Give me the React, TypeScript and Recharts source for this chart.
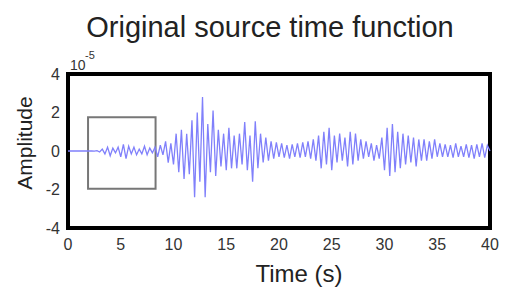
import React from 'react';
import { LineChart, Line, XAxis, YAxis, ReferenceArea } from 'recharts';

// sample interval of the trace (s)
const STEP = 0.25;

// amplitude (x 1e-5), one row per 2 s
const AMP = [
  0, 0, 0, 0, 0, 0, 0, 0,
  0, 0.01, -0.01, 0.02, -0.05, 0.1, -0.15, 0.2,
  -0.25, 0.15, -0.1, 0.2, -0.3, 0.35, -0.4, 0.25,
  -0.15, 0.2, -0.2, 0.1, -0.15, 0.25, -0.2, 0.15,
  -0.1, 0.2, -0.3, 0.3, -0.2, 0.5, -0.6, 0.4,
  -0.7, 0.9, -1.1, 1.1, -1.45, 0.9, -1.2, 1.6,
  -2.4, 2.0, -1.6, 2.8, -2.4, 1.4, -1.1, 2.1,
  -1.3, 1.1, -0.8, 0.9, -1.0, 1.2, -0.9, 0.8,
  -0.9, 0.9, -0.7, 1.5, -1.0, 0.8, -1.6, 1.55,
  -0.9, 0.9, -0.6, 0.7, -0.5, 0.5, -0.4, 0.45,
  -0.3, 0.4, -0.35, 0.3, -0.4, 0.35, -0.3, 0.4,
  -0.35, 0.45, -0.3, 0.5, -0.4, 0.6, -0.5, 0.8,
  -0.9, 1.0, -0.7, 1.2, -1.0, 0.8, -0.6, 0.9,
  -0.5, 0.7, -0.8, 1.0, -0.7, 0.9, -0.5, 0.6,
  -0.4, 0.5, -0.3, 0.4, -0.5, 0.3, -0.4, 0.7,
  -1.0, 1.2, -1.3, 1.4, -1.1, 1.0, -0.9, 0.9,
  -0.7, 0.8, -0.6, 0.7, -0.8, 0.6, -0.5, 0.6,
  -0.5, 0.5, -0.4, 0.6, -0.3, 0.4, -0.3, 0.35,
  -0.3, 0.3, -0.35, 0.4, -0.3, 0.25, -0.3, 0.35,
  -0.35, 0.3, -0.4, 0.35, -0.3, 0.4, -0.35, 0.3,
  0,
];

const X_TICKS = [0, 5, 10, 15, 20, 25, 30, 35, 40];
const Y_TICKS = [-4, -2, 0, 2, 4];

// zoom box drawn on the early part of the trace
const BOX_T = [1.9, 8.3];
const BOX_A = [-1.96, 1.75];

const data = AMP.map((a, i) => ({ t: i * STEP, amp: a }));

const FONT = '"Liberation Sans", Arial, sans-serif';

export default function App() {
  return (
    <div style={{ position: 'absolute', left: 0, top: 0, width: 508, height: 290, background: '#fff', fontFamily: FONT }}>
      <LineChart width={508} height={290} data={data} margin={{ top: 74, right: 18, bottom: 32, left: 28 }}>
        <XAxis
          dataKey="t"
          type="number"
          domain={[0, 40]}
          ticks={X_TICKS}
          height={30}
          axisLine={false}
          tickLine={false}
          tickSize={0}
          tickMargin={11}
          tick={{ fill: '#333', fontSize: 16, fontFamily: FONT }}
        />
        <YAxis
          type="number"
          domain={[-4, 4]}
          ticks={Y_TICKS}
          width={40}
          axisLine={false}
          tickLine={false}
          tickSize={0}
          tickMargin={8}
          tick={{ fill: '#333', fontSize: 16, fontFamily: FONT }}
        />
        <Line type="linear" dataKey="amp" stroke="#8080fb" strokeWidth={1.3} dot={false} isAnimationActive={false} />
        <ReferenceArea x1={BOX_T[0]} x2={BOX_T[1]} y1={BOX_A[0]} y2={BOX_A[1]} fill="none" stroke="#777" strokeWidth={2} ifOverflow="visible" />
        <ReferenceArea x1={0} x2={40} y1={-4} y2={4} fill="none" stroke="#000" strokeWidth={4} ifOverflow="visible" />
      </LineChart>
      <svg width={508} height={290} style={{ position: 'absolute', left: 0, top: 0, pointerEvents: 'none' }}>
        <text x={270} y={37} textAnchor="middle" fontSize={29} fill="#222" fontFamily={FONT}>Original source time function</text>
        <text x={70} y={70} fontSize={14} fill="#333" fontFamily={FONT}>10</text>
        <text x={85} y={59} fontSize={11} fill="#333" fontFamily={FONT}>-5</text>
        <text transform="translate(32,143) rotate(-90)" textAnchor="middle" fontSize={21} fill="#222" fontFamily={FONT}>Amplitude</text>
        <text x={299} y={282} textAnchor="middle" fontSize={24} fill="#222" fontFamily={FONT}>Time (s)</text>
      </svg>
    </div>
  );
}
